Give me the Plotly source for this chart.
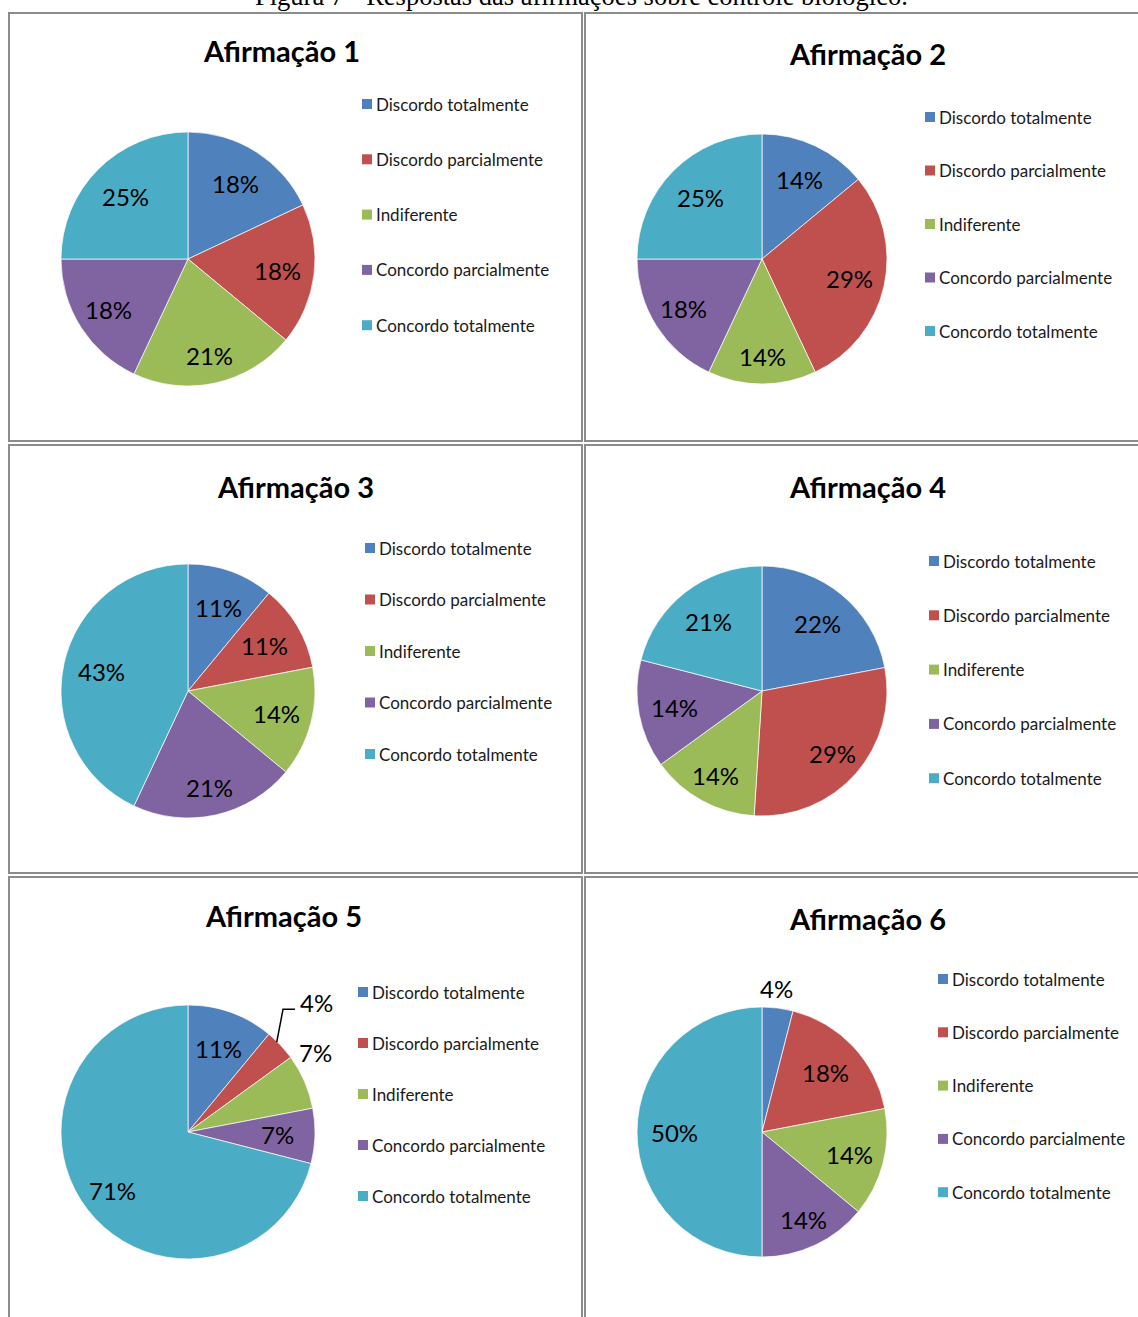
import math
import plotly.graph_objects as go

W, H = 1138, 1317

# ---------------- data ----------------
caption = "Figura 7 - Respostas das afirmações sobre controle biológico."
categories = ["Discordo totalmente", "Discordo parcialmente", "Indiferente",
              "Concordo parcialmente", "Concordo totalmente"]
titles = ["Afirmação 1", "Afirmação 2", "Afirmação 3",
          "Afirmação 4", "Afirmação 5", "Afirmação 6"]
afirmacao_1 = [18, 18, 21, 18, 25]
afirmacao_2 = [14, 29, 14, 18, 25]
afirmacao_3 = [11, 11, 14, 21, 43]
afirmacao_4 = [22, 29, 14, 14, 21]
afirmacao_5 = [11, 4, 7, 7, 71]
afirmacao_6 = [4, 18, 14, 14, 50]
series = [afirmacao_1, afirmacao_2, afirmacao_3, afirmacao_4, afirmacao_5, afirmacao_6]

# ---------------- style / layout (pixels) ----------------
colors = ["#4F81BD", "#C0504D", "#9BBB59", "#8064A2", "#4BACC6"]
panels = [
    dict(box=(9, 13, 582, 441), cx=188, cy=259, r=127, title=(281, 50), leg=(362, 104, 55.3)),
    dict(box=(585, 13, 1145, 441), cx=762, cy=259, r=125, title=(867, 54), leg=(925, 117, 53.5)),
    dict(box=(9, 445, 582, 873), cx=188, cy=691, r=127, title=(295, 486), leg=(365, 548, 51.5)),
    dict(box=(585, 445, 1145, 873), cx=762, cy=691, r=125, title=(867, 486), leg=(929, 561, 54.3)),
    dict(box=(9, 877, 582, 1325), cx=188, cy=1132, r=127, title=(283, 915), leg=(358, 992, 51.0)),
    dict(box=(585, 877, 1145, 1325), cx=762, cy=1132, r=125, title=(867, 918), leg=(938, 979, 53.3)),
]
# outside-label placement tweaks: (panel, slice) -> (radius factor, angle shift deg)
label_tweaks = {(4, 1): (1.436, -2.2), (4, 2): (1.188, -8.6), (5, 0): (1.15, -1.6)}
leaders = {(4, 1)}

LABEL_FONT = "Lato, 'Open Sans', sans-serif"


def px(x):
    return x / W


def py(y):
    return 1 - y / H


fig = go.Figure()
shapes = []
annotations = []

for k, (p, vals, title) in enumerate(zip(panels, series, titles)):
    cx, cy, r = p["cx"], p["cy"], p["r"]
    # panel border
    x0, y0, x1, y1 = p["box"]
    shapes.append(dict(type="rect", xref="paper", yref="paper",
                       x0=px(x0), x1=px(x1), y0=py(y1), y1=py(y0),
                       line=dict(color="#8c8c8c", width=2), fillcolor="rgba(0,0,0,0)",
                       layer="below"))
    fig.add_trace(go.Pie(
        values=vals, labels=categories, sort=False, direction="clockwise", rotation=0,
        marker=dict(colors=colors, line=dict(color="rgba(255,255,255,0.7)", width=1)),
        textinfo="none", hoverinfo="label+percent", showlegend=False,
        domain=dict(x=[px(cx - r), px(cx + r)], y=[py(cy + r), py(cy - r)]),
    ))
    # title
    tx, ty = p["title"]
    annotations.append(dict(text="<b>" + title + "</b>", x=px(tx), y=py(ty),
                            xref="paper", yref="paper", xanchor="center", yanchor="middle",
                            showarrow=False, font=dict(family=LABEL_FONT, size=29, color="#000")))
    # slice labels
    total = sum(vals)
    cum = 0
    for i, v in enumerate(vals):
        mid = (cum + v / 2) / total
        cum += v
        theta = mid * 360
        rf = 0.70 + 0.08 * max(0.0, -math.cos(math.radians(theta)))
        if (k, i) in label_tweaks:
            rf, dth = label_tweaks[(k, i)]
            theta += dth
        t = math.radians(theta)
        lx = cx + rf * r * math.sin(t)
        ly = cy - rf * r * math.cos(t)
        annotations.append(dict(text=f"{v}%", x=px(lx), y=py(ly), xref="paper", yref="paper",
                                xanchor="center", yanchor="middle", showarrow=False,
                                font=dict(family=LABEL_FONT, size=24, color="#000")))
        if (k, i) in leaders:
            sx = cx + 0.995 * r * math.sin(t)
            sy = cy - 0.995 * r * math.cos(t)
            ex, ey = lx - 33, ly + 7
            fx, fy = lx - 21, ly + 7
            path = f"M {px(sx)},{py(sy)} L {px(ex)},{py(ey)} L {px(fx)},{py(fy)}"
            shapes.append(dict(type="path", xref="paper", yref="paper", path=path,
                               line=dict(color="#000", width=1.5)))
    # legend
    lgx, lgy, step = p["leg"]
    for i, (cat, col) in enumerate(zip(categories, colors)):
        yy = lgy + i * step
        shapes.append(dict(type="rect", xref="paper", yref="paper",
                           x0=px(lgx), x1=px(lgx + 10), y0=py(yy + 5), y1=py(yy - 5),
                           line=dict(width=0), fillcolor=col))
        annotations.append(dict(text=cat, x=px(lgx + 12), y=py(yy), xref="paper", yref="paper",
                                xanchor="left", yanchor="middle", showarrow=False,
                                font=dict(family=LABEL_FONT, size=17, color="#1a1a1a")))

# caption (partly cut off at the top edge, as in the original)
annotations.append(dict(text=caption, x=px(581), y=py(-4), xref="paper", yref="paper",
                        xanchor="center", yanchor="middle", showarrow=False,
                        font=dict(family="'Liberation Serif', 'Times New Roman', serif",
                                  size=26.5, color="#000")))

fig.update_layout(width=W, height=H, margin=dict(l=0, r=0, t=0, b=0),
                  paper_bgcolor="white", plot_bgcolor="white",
                  shapes=shapes, annotations=annotations, showlegend=False)

fig.write_html("out.html")
